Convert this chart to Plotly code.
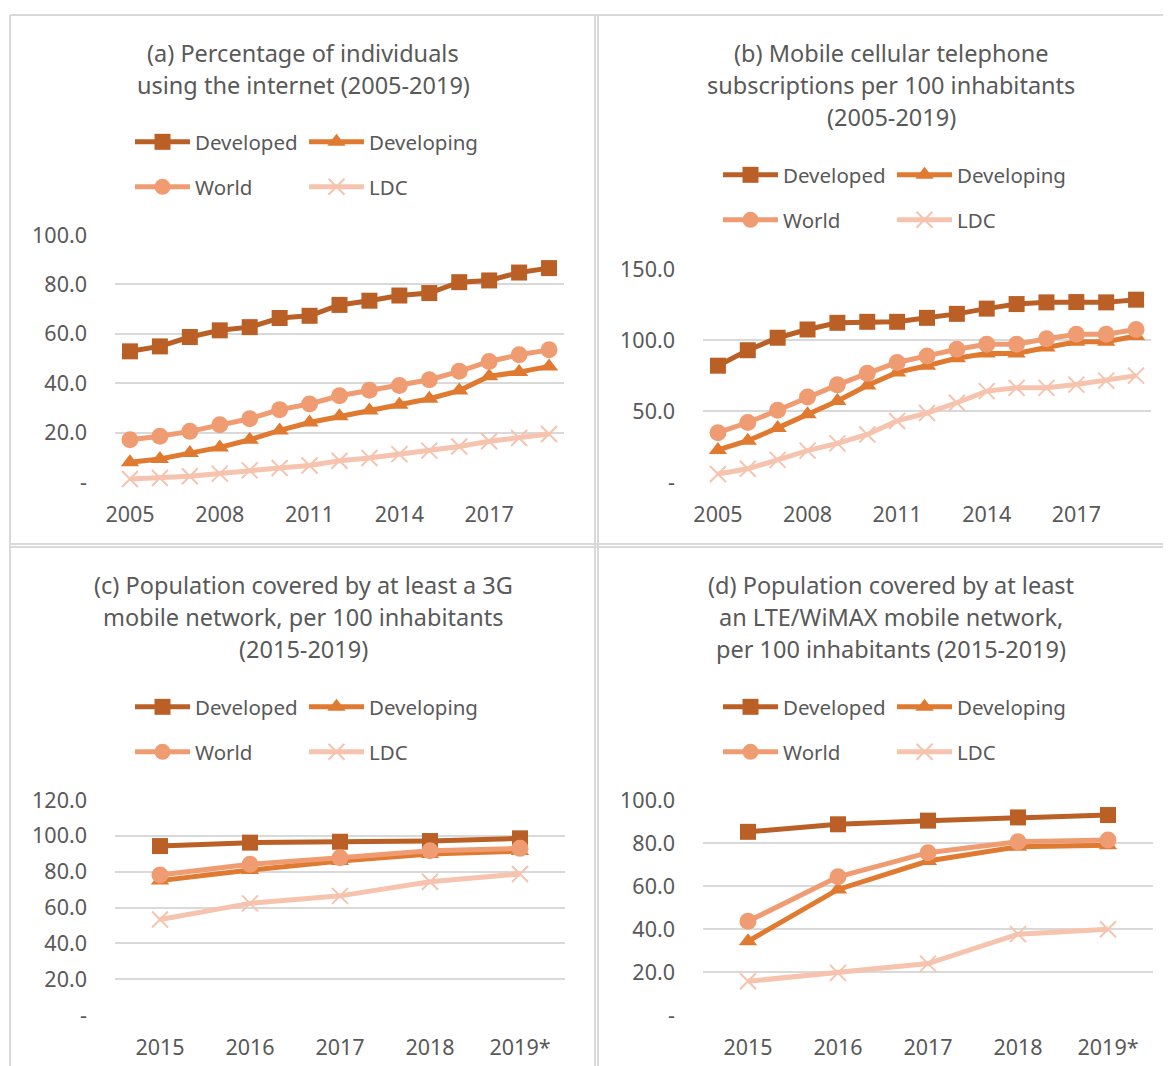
import plotly.graph_objects as go

VIEW_W, VIEW_H = 1171, 1066
PAGE_OFFSET = 8  # default body margin of the written page
W, H = VIEW_W - 2 * PAGE_OFFSET, VIEW_H - PAGE_OFFSET

years_ab = list(range(2005, 2020))
years_cd = ["2015", "2016", "2017", "2018", "2019*"]

series_names = ["Developed", "Developing", "World", "LDC"]

# (a) Internet use, % of individuals
a_developed = [52.9, 54.9, 58.7, 61.4, 62.7, 66.4, 67.3, 71.7, 73.4, 75.5, 76.5, 80.9, 81.6, 84.8, 86.6]
a_developing = [8.0, 9.3, 11.7, 14.0, 17.1, 20.9, 24.1, 26.6, 28.9, 31.3, 33.7, 37.0, 42.8, 44.5, 46.8]
a_world = [17.1, 18.5, 20.5, 23.2, 25.6, 29.3, 31.6, 34.9, 37.1, 39.1, 41.4, 44.8, 48.8, 51.5, 53.5]
a_ldc = [1.2, 1.6, 2.3, 3.4, 4.7, 5.7, 6.7, 8.6, 9.7, 11.3, 12.7, 14.4, 16.5, 17.8, 19.4]

# (b) Mobile subscriptions per 100 inhabitants
b_developed = [81.9, 92.8, 101.6, 107.4, 112.1, 112.8, 112.8, 115.6, 118.4, 122.1, 125.3, 126.5, 126.7, 126.5, 128.4]
b_developing = [22.6, 29.1, 38.1, 47.7, 57.0, 67.9, 77.2, 81.9, 87.2, 90.5, 90.5, 94.7, 98.8, 98.8, 102.8]
b_world = [34.7, 41.9, 50.5, 59.8, 68.4, 76.5, 84.2, 88.8, 93.5, 97.0, 97.0, 100.9, 104.0, 104.0, 107.4]
b_ldc = [5.6, 9.3, 15.6, 22.1, 27.2, 33.5, 43.0, 48.6, 55.8, 64.0, 66.3, 66.3, 68.6, 71.4, 74.9]

# (c) 3G coverage
c_developed = [94.3, 96.2, 96.7, 97.1, 98.6]
c_developing = [75.0, 80.9, 85.9, 89.8, 91.5]
c_world = [78.1, 84.1, 87.8, 91.7, 93.0]
c_ldc = [53.3, 62.3, 66.5, 74.4, 78.7]

# (d) LTE/WiMAX coverage
d_developed = [85.2, 88.7, 90.4, 91.9, 93.0]
d_developing = [34.3, 58.4, 71.6, 78.3, 78.9]
d_world = [43.6, 64.3, 75.5, 80.6, 81.4]
d_ldc = [15.7, 19.6, 23.9, 37.6, 39.9]

titles = [
    ["(a) Percentage of individuals", "using the internet (2005-2019)"],
    ["(b) Mobile cellular telephone", "subscriptions per 100 inhabitants", "(2005-2019)"],
    ["(c) Population covered by at least a 3G", "mobile network, per 100 inhabitants", "(2015-2019)"],
    ["(d) Population covered by at least", "an LTE/WiMAX mobile network,", "per 100 inhabitants (2015-2019)"],
]

y_ticks_a = [0, 20, 40, 60, 80, 100]
y_ticks_b = [0, 50, 100, 150]
y_ticks_c = [0, 20, 40, 60, 80, 100, 120]
y_ticks_d = [0, 20, 40, 60, 80, 100]
x_ticks_ab = [2005, 2008, 2011, 2014, 2017]

colors = {"Developed": "#BA6026", "Developing": "#E07A30", "World": "#F09C72", "LDC": "#F6C3AE"}
symbols = {"Developed": "square", "Developing": "triangle-up", "World": "circle", "LDC": "x-thin"}
msize = {"Developed": 16, "Developing": 16, "World": 17, "LDC": 16}

TXT = "#595959"
GRID = "#D9D9D9"
FONT = "Noto Sans"

def px(x):
    return (x - PAGE_OFFSET) / W

def py(y):
    return 1 - (y - PAGE_OFFSET) / H

panels = [
    dict(x=years_ab, data=[a_developed, a_developing, a_world, a_ldc], xd=(115, 564), yd=(235, 482),
         yr=(0, 100), yt=y_ticks_a, cat=False, tx=303, ty=[53, 85], leg=(137, 142, 187)),
    dict(x=years_ab, data=[b_developed, b_developing, b_world, b_ldc], xd=(703, 1151), yd=(269, 482),
         yr=(0, 150), yt=y_ticks_b, cat=False, tx=891, ty=[53, 85, 117], leg=(725, 175, 220)),
    dict(x=years_cd, data=[c_developed, c_developing, c_world, c_ldc], xd=(115, 565), yd=(800, 1015),
         yr=(0, 120), yt=y_ticks_c, cat=True, tx=303, ty=[585, 617, 649], leg=(137, 707, 752)),
    dict(x=years_cd, data=[d_developed, d_developing, d_world, d_ldc], xd=(703, 1153), yd=(800, 1015),
         yr=(0, 100), yt=y_ticks_d, cat=True, tx=891, ty=[585, 617, 649], leg=(725, 707, 752)),
]

fig = go.Figure()
layout = dict(
    width=W, height=H, margin=dict(l=0, r=0, t=0, b=0, autoexpand=False),
    paper_bgcolor="white", plot_bgcolor="white",
    font=dict(family=FONT, color=TXT, size=18),
    annotations=[], shapes=[],
)

legend_count = 0
for i, p in enumerate(panels):
    n = i + 1
    xa = "x" if n == 1 else f"x{n}"
    ya = "y" if n == 1 else f"y{n}"
    xkey = "xaxis" if n == 1 else f"xaxis{n}"
    ykey = "yaxis" if n == 1 else f"yaxis{n}"
    leg_ids = []
    for r, ly in enumerate((p["leg"][1], p["leg"][2])):
        legend_count += 1
        lid = "legend" if legend_count == 1 else f"legend{legend_count}"
        leg_ids.append(lid)
        layout[lid] = dict(
            x=px(p["leg"][0] - 7), y=py(ly), xanchor="left", yanchor="middle",
            orientation="h", entrywidth=104, entrywidthmode="pixels",
            itemwidth=55, font=dict(family=FONT, size=20.5, color=TXT),
            bgcolor="rgba(0,0,0,0)", tracegroupgap=0, itemclick=False, itemdoubleclick=False,
        )
    for k, name in enumerate(series_names):
        fig.add_trace(go.Scatter(
            x=p["x"], y=p["data"][k], name=name, mode="lines+markers",
            xaxis=xa, yaxis=ya, cliponaxis=False,
            line=dict(color=colors[name], width=5),
            marker=dict(symbol=symbols[name], size=msize[name], color=colors[name],
                        line=dict(color=colors[name], width=2 if name == "LDC" else 0)),
            legend=leg_ids[0] if k < 2 else leg_ids[1],
            showlegend=True,
        ))
    if p["cat"]:
        xaxis = dict(type="category", range=[-0.5, len(p["x"]) - 0.5])
    else:
        xaxis = dict(type="linear", range=[2004.5, 2019.5], tickvals=x_ticks_ab,
                     ticktext=[str(v) for v in x_ticks_ab])
    xaxis.update(domain=[px(p["xd"][0]), px(p["xd"][1])], anchor=ya, showgrid=False,
                 zeroline=False, showline=False, ticks="", ticklabelstandoff=17, automargin=False,
                 tickfont=dict(family=FONT, size=21.5, color=TXT), fixedrange=True)
    yaxis = dict(domain=[py(p["yd"][1]), py(p["yd"][0])], anchor=xa, range=list(p["yr"]),
                 tickvals=p["yt"], ticktext=["-" if v == 0 else f"{v:.1f}" for v in p["yt"]],
                 showgrid=True, gridcolor=GRID, gridwidth=2, zeroline=False, showline=False,
                 ticks="", ticklabelstandoff=27, automargin=False,
                 tickfont=dict(family=FONT, size=21.5, color=TXT), fixedrange=True)
    layout[xkey] = xaxis
    layout[ykey] = yaxis
    for line_text, ty in zip(titles[i], p["ty"]):
        layout["annotations"].append(dict(
            text=line_text, x=px(p["tx"]), y=py(ty), xref="paper", yref="paper",
            xanchor="center", yanchor="middle", showarrow=False,
            font=dict(family=FONT, size=23.5, color=TXT)))

# panel borders (open to the right and bottom edges of the page)
border_lines = [
    (10, 15, VIEW_W + 20, 15), (10, 544, VIEW_W + 20, 544), (10, 547, VIEW_W + 20, 547),
    (10, 15, 10, VIEW_H + 20), (595, 15, 595, VIEW_H + 20), (598, 15, 598, VIEW_H + 20),
]
for (x0, y0, x1, y1) in border_lines:
    layout["shapes"].append(dict(type="line", xref="paper", yref="paper",
                                 x0=px(x0), x1=px(x1), y0=py(y0), y1=py(y1),
                                 line=dict(color="#D9D9D9", width=2), layer="below"))

fig.update_layout(**layout)
fig.write_html("out.html")
